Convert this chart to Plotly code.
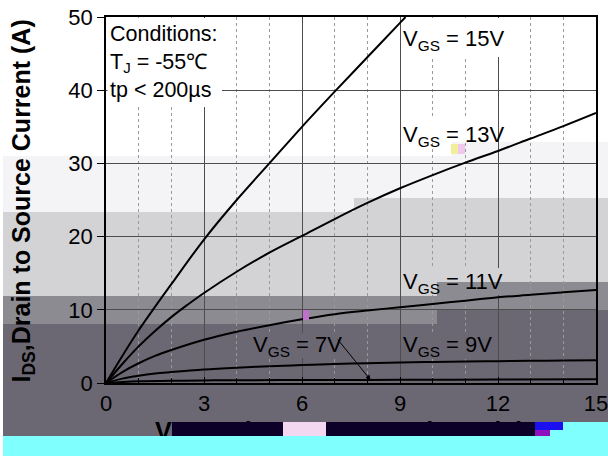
import plotly.graph_objects as go

# ---------------- data ----------------
x_15 = [0, 0.5, 1, 1.5, 2, 3, 4, 5, 6, 7, 8, 9, 9.17]
i_15 = [0, 3.7, 7.2, 10.4, 13.5, 19.6, 25.0, 30.0, 35.0, 39.8, 44.5, 49.2, 50.0]

x_13 = [0, 0.5, 1, 1.5, 2, 2.5, 3, 4, 5, 6, 7, 8, 9, 10, 11, 12, 13, 14, 15]
i_13 = [0, 2.6, 5.0, 7.1, 9.0, 10.7, 12.3, 15.2, 17.8, 20.1, 22.4, 24.6, 26.6, 28.4, 30.1, 31.7, 33.4, 35.1, 36.9]

x_11 = [0, 0.5, 1, 1.5, 2, 3, 4, 5, 6, 7, 8, 9, 10, 11, 12, 13, 14, 15]
i_11 = [0, 1.5, 2.7, 3.7, 4.5, 5.9, 7.0, 7.9, 8.7, 9.4, 9.9, 10.35, 10.8, 11.25, 11.7, 12.05, 12.4, 12.7]

x_9 = [0, 0.5, 1, 1.5, 2, 3, 4, 5, 6, 7, 8, 9, 10, 11, 12, 13, 14, 15]
i_9 = [0, 0.6, 1.0, 1.3, 1.5, 1.85, 2.1, 2.3, 2.45, 2.6, 2.7, 2.8, 2.87, 2.93, 2.98, 3.03, 3.07, 3.1]

x_7 = [0, 0.5, 1, 2, 3, 4, 6, 8, 10, 12, 15]
i_7 = [0, 0.15, 0.25, 0.3, 0.35, 0.38, 0.4, 0.42, 0.45, 0.47, 0.5]

x_ticks = [0, 3, 6, 9, 12, 15]
y_ticks = [0, 10, 20, 30, 40, 50]

labels = ["V<sub>GS</sub> = 15V", "V<sub>GS</sub> = 13V", "V<sub>GS</sub> = 11V",
          "V<sub>GS</sub> = 9V", "V<sub>GS</sub> = 7V"]
conditions = "Conditions:<br>T<sub>J</sub> = -55℃<br>tp &lt; 200µs"
y_title = "<b>I<sub>DS</sub>,Drain to Source Current (A)</b>"
x_title = "<b>V<sub>DS</sub>,Drain to Source Voltage (V)</b>"

# ---------------- layout helpers ----------------
# Page margin is removed, so the figure fills the 608x456 window; positions are window px.
OFF = 0
FW, FH = 608, 456
PL, PT, PR, PB = 106, 17, 596, 383   # plot area, window pixels


def px(r):
    return (r - OFF) / FW


def py(r):
    return 1 - (r - OFF) / FH


FONT = "Arial, 'Liberation Sans', sans-serif"
BAND1 = "#f4f4f6"
BAND2 = "#d3d3d5"
BAND3 = "#8c8b92"
BAND4 = "#6b6874"
NAVY = "#0c0028"
CYAN = "#80ffff"

fig = go.Figure()
for xs, ys in [(x_15, i_15), (x_13, i_13), (x_11, i_11), (x_9, i_9), (x_7, i_7)]:
    fig.add_trace(go.Scatter(x=xs, y=ys, mode="lines", line=dict(color="black", width=2),
                             line_shape="spline", hoverinfo="skip", showlegend=False,
                             xaxis="x", yaxis="y"))

# x-axis title on a window-pixel overlay, under the glitch strip
fig.add_trace(go.Scatter(x=[155], y=[434], mode="text", text=[x_title],
                         textposition="middle right", hoverinfo="skip", showlegend=False,
                         textfont=dict(family=FONT, size=25, color="black"),
                         xaxis="x2", yaxis="y2"))


def rect(a, b, top, bot, col, layer):
    return dict(type="rect", xref="paper", yref="paper", x0=px(a), x1=px(b),
                y0=py(bot), y1=py(top), fillcolor=col, line=dict(width=0), layer=layer)


bands = [
    (452, 608, 142, 156, BAND1),
    (3, 608, 156, 198, BAND1),
    (3, 354, 198, 212, BAND1),
    (354, 608, 198, 212, BAND2),
    (3, 608, 212, 282, BAND2),
    (3, 437, 282, 296, BAND2),
    (437, 608, 282, 296, BAND3),
    (3, 608, 296, 310, BAND3),
    (3, 437, 310, 324, BAND3),
    (437, 608, 310, 324, BAND4),
    (3, 608, 324, 422, BAND4),
    (3, 172, 422, 436, BAND4),
]
shapes = [rect(a, b, t, bt, c, "below") for a, b, t, bt, c in bands]

covers = [
    (107.5, 222, 18, 107, "white"),
    (418, 505, 18, 57, "white"),
    (418, 490, 116, 142, "white"),
    (252, 338, 333, 358, BAND4),
    (418, 492, 333, 358, BAND4),
    (418, 437, 268, 295, BAND2),
    (437, 505, 268, 282, BAND2),
    (437, 505, 282, 295, BAND3),
    # small colour specks of the scan
    (451, 458, 144, 154, "#f2ee9a"),
    (458, 465, 144, 154, "#f0c8ee"),
    (303, 309, 310, 320, "#c070c8"),
]
shapes += [rect(a, b, t, bt, c, "above") for a, b, t, bt, c in covers]

strip = [
    (172, 283, 422, 436, NAVY),
    (283, 326, 422, 436, "#f3d6f0"),
    (326, 535, 422, 436, NAVY),
    (535, 563, 422, 430, "#1a10f0"),
    (535, 550, 430, 436, "#9010c0"),
    (550, 608, 430, 436, CYAN),
    (563, 608, 422, 430, CYAN),
    (3, 608, 436, 456, CYAN),
]
shapes += [rect(a, b, t, bt, c, "above") for a, b, t, bt, c in strip]

annotations = []
lab_font = dict(family=FONT, size=22, color="black")
annotations.append(dict(xref="paper", yref="paper", x=px(108), y=py(20), xanchor="left",
                        yanchor="top", align="left", text=conditions, showarrow=False,
                        font=dict(family=FONT, size=21.5, color="black")))
label_pos = [(401, 40.5), (401, 135.5), (401, 282.5), (401, 345.5), (251, 345.5)]
for txt, (lx, ly) in zip(labels, label_pos):
    annotations.append(dict(xref="paper", yref="paper", x=px(lx), y=py(ly), xanchor="left",
                            yanchor="middle", text=txt, showarrow=False, font=lab_font))
annotations.append(dict(x=8.1, y=0.4, xref="x", yref="y", text="", showarrow=True,
                        ax=-34, ay=-42, arrowhead=2, arrowsize=1, arrowwidth=1,
                        arrowcolor="black"))
annotations.append(dict(xref="paper", yref="paper", x=px(22.5), y=py(201), xanchor="center",
                        yanchor="middle", textangle=-90, text=y_title, showarrow=False,
                        font=dict(family=FONT, size=25, color="black")))

fig.update_layout(
    width=FW, height=FH, margin=dict(l=0, r=0, t=0, b=0, pad=0, autoexpand=False),
    paper_bgcolor="white", plot_bgcolor="rgba(0,0,0,0)",
    shapes=shapes, annotations=annotations, showlegend=False,
    font=dict(family=FONT, size=22, color="black"),
    xaxis=dict(domain=[px(PL), px(PR)], anchor="y", range=[0, 15], tickvals=x_ticks,
               ticktext=[str(v) for v in x_ticks], ticklabeloverflow="allow",
               automargin=False,
               showline=True, linecolor="black", linewidth=1.5, mirror=True,
               ticks="inside", ticklen=6, tickcolor="black", tickwidth=1,
               showgrid=True, gridcolor="#4d4d4d", gridwidth=1, zeroline=False,
               minor=dict(dtick=1, tick0=0, showgrid=True, gridcolor="#9a9a9a",
                          griddash="3px,3px", gridwidth=1, ticks="inside", ticklen=5,
                          tickcolor="black"),
               tickfont=dict(family=FONT, size=22, color="black")),
    yaxis=dict(domain=[py(PB), py(PT)], anchor="x", range=[0, 50], tickvals=y_ticks,
               ticktext=[str(v) for v in y_ticks], ticklabeloverflow="allow",
               automargin=False,
               showline=True, linecolor="black", linewidth=1.5, mirror=True,
               ticks="outside", ticklen=7, tickcolor="black", tickwidth=1,
               showgrid=True, gridcolor="#4d4d4d", gridwidth=1, zeroline=False,
               tickfont=dict(family=FONT, size=22, color="black")),
    xaxis2=dict(domain=[0, 1], anchor="y2", range=[OFF, OFF + FW], visible=False,
                fixedrange=True, automargin=False),
    yaxis2=dict(domain=[0, 1], anchor="x2", range=[OFF + FH, OFF], visible=False,
                fixedrange=True, automargin=False),
)

fig.write_html("out.html", config={"displayModeBar": False},
               post_script="document.body.style.margin='0px';")
